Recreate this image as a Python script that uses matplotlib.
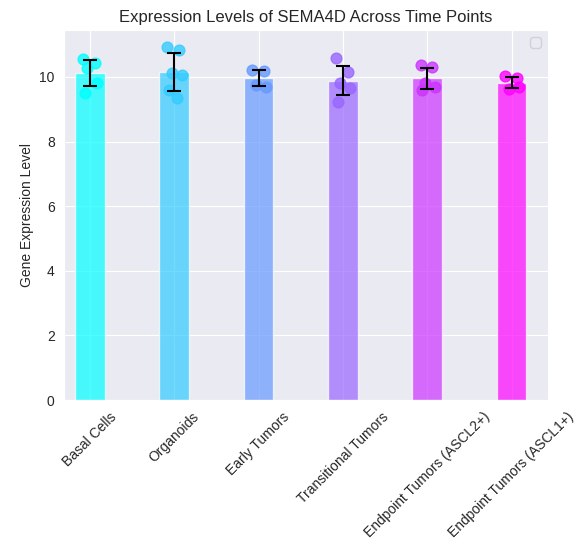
import numpy as np
import matplotlib
matplotlib.use("Agg")
import matplotlib.pyplot as plt
import seaborn as sns

sns.set_style("darkgrid")
plt.rcParams["font.family"] = ["Liberation Sans", "DejaVu Sans"]
plt.rcParams["font.size"] = 10

groups = ["Basal Cells", "Organoids", "Early Tumors", "Transitional Tumors",
          "Endpoint Tumors (ASCL2+)", "Endpoint Tumors (ASCL1+)"]
values = [
    [10.55, 10.43, 10.28, 9.81, 9.5],
    [10.93, 10.84, 10.12, 10.06, 9.6, 9.35],
    [10.22, 10.2, 9.75, 9.7],
    [10.59, 10.15, 9.81, 9.66, 9.23],
    [10.38, 10.3, 9.8, 9.7, 9.6],
    [10.02, 9.97, 9.62, 9.7],
]
jitter = [-0.08, 0.06, -0.03, 0.09, -0.06, 0.03]

colors = plt.cm.cool(np.linspace(0, 1, len(groups)))
means = [np.mean(v) for v in values]
stds = [np.std(v) for v in values]
x = np.arange(len(groups))

fig, ax = plt.subplots(figsize=(5.86, 5.48), dpi=100)
ax.bar(x, means, width=0.35, color=colors, alpha=0.7)
for i, v in enumerate(values):
    ax.scatter(x[i] + np.array(jitter[:len(v)]), v, color=colors[i], s=60,
               alpha=0.8, zorder=3)
ax.errorbar(x, means, yerr=stds, fmt="none", ecolor="black", capsize=5,
            elinewidth=1.5, capthick=1.5, zorder=4)
ax.set_xticks(x)
ax.set_xticklabels(groups, rotation=45)
ax.set_xlim(-0.3, 5.43)
ax.set_ylim(0, 11.45)
ax.set_ylabel("Gene Expression Level")
ax.set_title("Expression Levels of SEMA4D Across Time Points", fontsize=12)
ax.legend(handles=[], loc="upper right")
fig.subplots_adjust(left=0.11, right=0.935, top=0.945, bottom=0.27)
fig.savefig("out.png")
